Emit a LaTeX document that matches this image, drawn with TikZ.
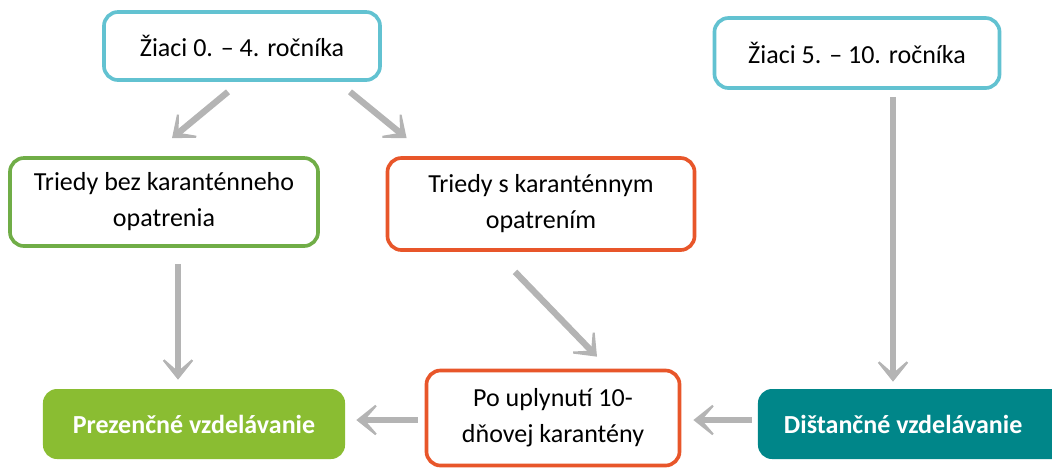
\documentclass[tikz,border=0pt]{standalone}
\usepackage{fontspec}
\setmainfont{Carlito}
\usepackage{tikz}
\usetikzlibrary{calc,arrows.meta,positioning}
\definecolor{cyanline}{RGB}{98,194,209}
\definecolor{greenline}{RGB}{112,173,71}
\definecolor{orangeline}{RGB}{232,86,42}
\definecolor{greenfill}{RGB}{138,189,50}
\definecolor{tealfill}{RGB}{0,134,137}
\definecolor{arrgray}{RGB}{180,180,180}

\begin{document}
\begin{tikzpicture}[x=0.025cm,y=-0.025cm,
    box/.style={draw,line width=2.6pt,rounded corners=10pt,fill=white,
      align=center,font=\fontsize{18.5}{25.6}\selectfont,inner sep=0pt},
    solid box/.style={rounded corners=10pt,text=white,align=center,
      font=\fontsize{18.5}{25.6}\selectfont\bfseries,inner sep=0pt},
    arr/.style={draw=arrgray,line width=4.5pt,
      -{Stealth[length=20pt,width=32pt,inset=14pt]}}]
    % frame
    \useasboundingbox (0,0) rectangle (1052,470);

    % top row
    \node[box,draw=cyanline,minimum width=6.9cm,minimum height=1.7cm] (z04) at (242,46) {Žiaci 0. – 4. ročníka};
    \node[box,draw=cyanline,minimum width=7.125cm,minimum height=1.75cm] (z510) at (857,53) {Žiaci 5. – 10. ročníka};

    % middle row
    \node[box,draw=greenline,minimum width=7.7cm,minimum height=2.2cm] (bez) at (164,202) {Triedy bez karanténneho\\opatrenia};
    \node[box,draw=orangeline,minimum width=7.675cm,minimum height=2.3cm] (skar) at (541,204) {Triedy s karanténnym\\opatrením};

    % bottom row
    \node[solid box,fill=greenfill,minimum width=7.55cm,minimum height=1.75cm] (prez) at (194,424) {Prezenčné vzdelávanie};
    \node[box,draw=orangeline,minimum width=6.325cm,minimum height=2.375cm] (po) at (553,418) {Po uplynutí 10-\\dňovej karantény};
    \node[solid box,fill=tealfill,minimum width=7.75cm,minimum height=1.75cm] (dist) at (913,424) {\hspace*{-14pt}Dištančné vzdelávanie};

    % arrows
    \draw[arr] ($(z04.south)+(-14,10)$) -- ($(bez.north)+(8,-18)$);
    \draw[arr] ($(z04.south)+(108,10)$) -- ($(skar.north west)+(21,-18)$);
    \draw[arr] ($(bez.south)+(14,16)$) -- ($(prez.north)+(-16,-9)$);
    \draw[arr] ($(skar.south)+(-26,20)$) -- ($(po.north)+(44,-12)$);
    \draw[arr] ($(z510.south)+(36,7)$) -- ($(dist.north)+(-20,-7)$);
    \draw[arr] ($(dist.west)+(-6,-4)$) -- ($(po.east)+(12,2)$);
    \draw[arr] ($(po.west)+(-7,2)$) -- ($(prez.east)+(11,-4)$);
\end{tikzpicture}
\end{document}
